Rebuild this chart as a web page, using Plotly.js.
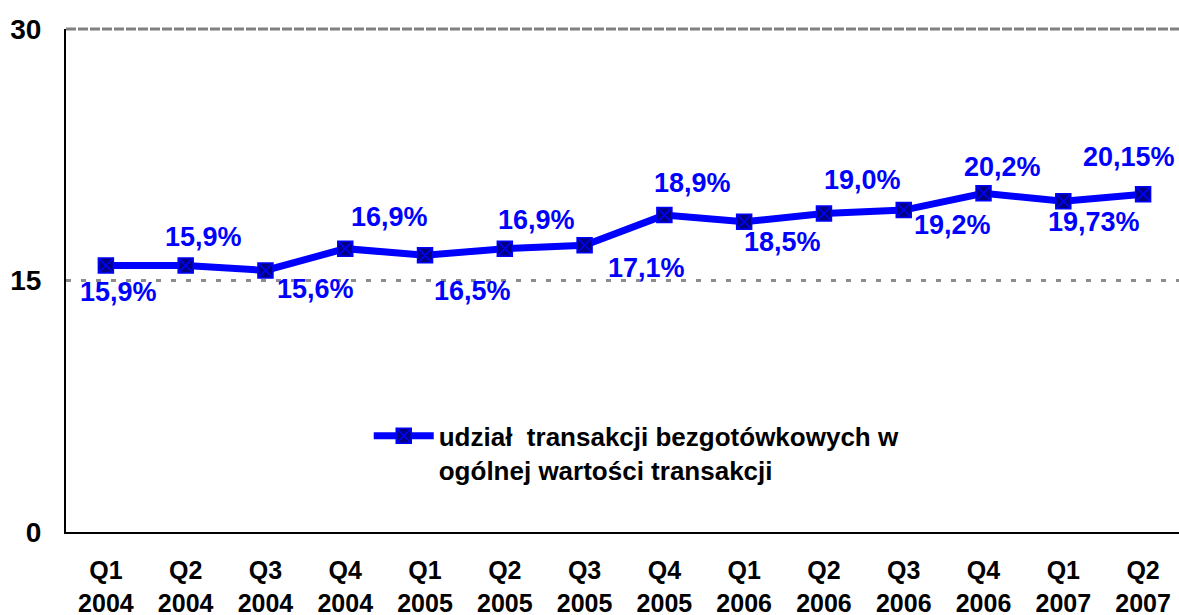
<!DOCTYPE html>
<html>
<head>
<meta charset="utf-8">
<script src="https://cdn.plot.ly/plotly-3.0.1.min.js"></script>
<style>
  html, body { margin: 0; padding: 0; background: #fff; }
  #chart { width: 1179px; height: 615px; }
</style>
</head>
<body>
<div id="chart"></div>
<script>
// ---- data ----
const quarters = ["Q1", "Q2", "Q3", "Q4", "Q1", "Q2", "Q3", "Q4", "Q1", "Q2", "Q3", "Q4", "Q1", "Q2"];
const years = ["2004", "2004", "2004", "2004", "2005", "2005", "2005", "2005", "2006", "2006", "2006", "2006", "2007", "2007"];
const shareValues = [15.9, 15.9, 15.6, 16.9, 16.5, 16.9, 17.1, 18.9, 18.5, 19.0, 19.2, 20.2, 19.73, 20.15];
const valueLabels = ["15,9%", "15,9%", "15,6%", "16,9%", "16,5%", "16,9%", "17,1%", "18,9%", "18,5%", "19,0%", "19,2%", "20,2%", "19,73%", "20,15%"];
const seriesName = "udział\u00a0 transakcji bezgotówkowych w<br>ogólnej wartości transakcji";
const yTicks = [0, 15, 30];

// label placement offsets (px), style only
const labelDX = [13, 18, 50, 44, 47, 32, 62, 28, 38, 39, 49, 19, 31, -14];
const labelDY = [-27, 28, -19, 32, -36, 29, -23, 32, -20, 33, -15, 26, -21, 37];

const categories = quarters.map((q, i) => q + "<br>" + years[i]);
const FONT = 'Arial, "Liberation Sans", sans-serif';

const trace = {
  type: 'scatter',
  mode: 'lines+markers',
  x: categories,
  y: shareValues,
  name: seriesName,
  line: { color: '#0000ff', width: 7 },
  marker: {
    symbol: 'square-x',
    size: 15,
    color: '#000080',
    line: { color: '#0000ff', width: 1.5 }
  },
  hoverinfo: 'skip'
};

const annotations = valueLabels.map((t, i) => ({
  x: categories[i],
  y: shareValues[i],
  xref: 'x', yref: 'y',
  text: t,
  showarrow: false,
  xshift: labelDX[i],
  yshift: labelDY[i],
  font: { family: FONT, size: 27, color: '#0000ff', weight: 700 }
}));

const layout = {
  width: 1179,
  height: 615,
  margin: { l: 66, r: 0, t: 29, b: 83 },
  paper_bgcolor: '#ffffff',
  plot_bgcolor: '#ffffff',
  showlegend: true,
  legend: {
    x: 0.272, y: 0.238, xanchor: 'left', yanchor: 'top',
    valign: 'top',
    bgcolor: 'rgba(0,0,0,0)',
    font: { family: FONT, size: 26, color: '#000000', weight: 700 },
    itemwidth: 60
  },
  xaxis: {
    type: 'category',
    range: [-0.5, 13.45],
    showline: true, linecolor: '#000000', linewidth: 2,
    showgrid: false, zeroline: false,
    ticks: '',
    ticklabelstandoff: 15,
    tickfont: { family: FONT, size: 25, color: '#000000', weight: 700 },
    fixedrange: true
  },
  yaxis: {
    range: [0, 30],
    tickvals: yTicks,
    ticktext: yTicks.map(String),
    showline: true, linecolor: '#000000', linewidth: 2,
    showgrid: true, gridcolor: '#8c8c8c', gridwidth: 2.5, griddash: '5px,10px',
    zeroline: false,
    ticks: '',
    ticklabelstandoff: 17,
    tickfont: { family: FONT, size: 28, color: '#000000', weight: 700 },
    fixedrange: true
  },
  shapes: [{
    type: 'line', xref: 'paper', yref: 'paper',
    x0: 0, x1: 1, y0: 1, y1: 1,
    line: { color: '#808080', width: 3, dash: '10px,2px' }
  }],
  annotations: annotations
};

Plotly.newPlot('chart', [trace], layout, { displayModeBar: false, staticPlot: true });
</script>
</body>
</html>
